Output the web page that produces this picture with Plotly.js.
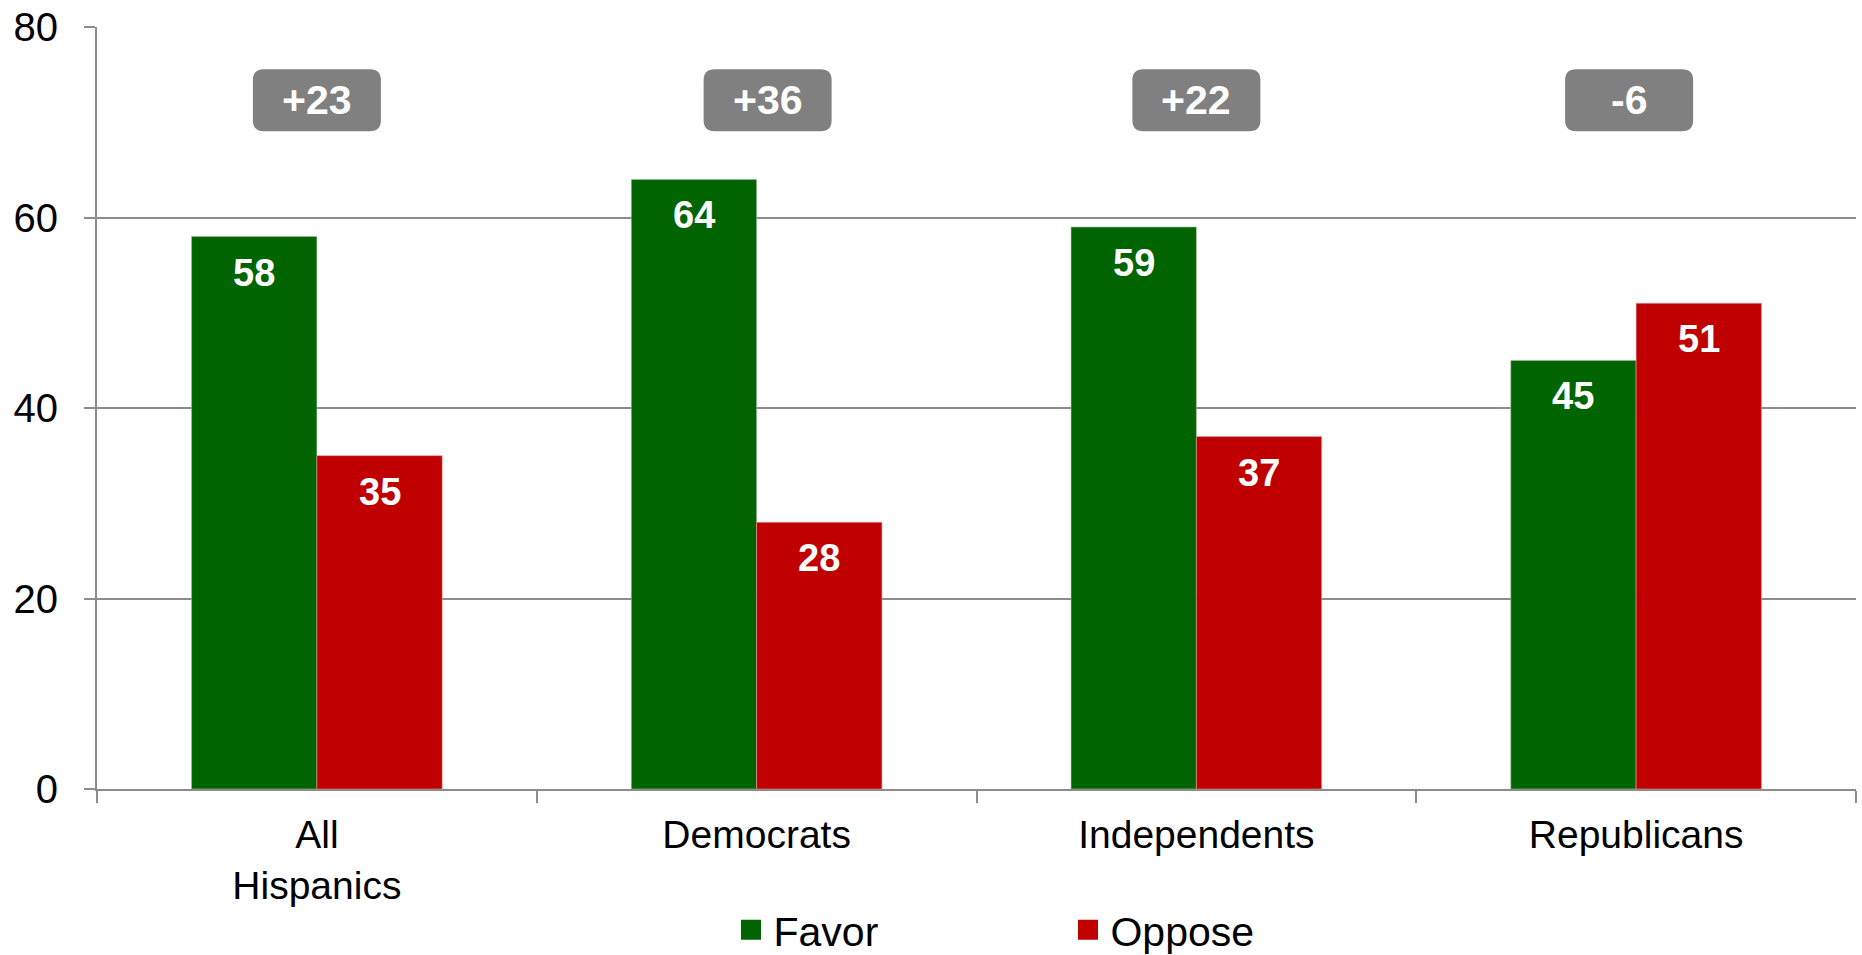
<!DOCTYPE html>
<html>
<head>
<meta charset="utf-8">
<script src="https://cdn.plot.ly/plotly-3.0.1.min.js"></script>
<style>html,body{margin:0;padding:0;background:#fff;}#chart{width:1862px;height:955px;}</style>
</head>
<body>
<div id="chart"></div>
<script>
// ---- data ----
var categories = ["All<br>Hispanics", "Democrats", "Independents", "Republicans"];
var favor = [58, 64, 59, 45];
var oppose = [35, 28, 37, 51];
var diffLabels = ["+23", "+36", "+22", "-6"];
var yTicks = [0, 20, 40, 60, 80];

// ---- style ----
var W = 1862, H = 955;
var M = {l: 97, r: 6, t: 27, b: 166};
var GREEN = "#006400", RED = "#C00000", BOXGRAY = "#808080", GRID = "#8c8c8c";
var FONT = "Liberation Sans, Arial, sans-serif";
var bargap = 0.43;
var plotW = W - M.l - M.r, plotH = H - M.t - M.b;
var yMax = 80;
var catPx = plotW / categories.length;
var barPx = catPx * (1 - bargap) / 2;
var pxPerY = plotH / yMax;
var boxNudgePx = [0, 11, 0, -7];

var traces = [
  {type: "bar", name: "Favor", x: categories, y: favor, marker: {color: GREEN, line: {color: "#9fbf9f", width: 0.6}}, showlegend: false, hoverinfo: "x+y"},
  {type: "bar", name: "Oppose", x: categories, y: oppose, marker: {color: RED, line: {color: "#e0a0a0", width: 0.6}}, showlegend: false, hoverinfo: "x+y"},
  {type: "scatter", mode: "markers", name: "Favor", x: [null], y: [null], marker: {symbol: "square", size: 16, color: GREEN, line: {color: GREEN, width: 4}}, showlegend: true},
  {type: "scatter", mode: "markers", name: "Oppose", x: [null], y: [null], marker: {symbol: "square", size: 16, color: RED, line: {color: RED, width: 4}}, showlegend: true}
];

var annotations = [];
var shapes = [];
var boxY = 72.3, boxHpx = 62, boxWpx = 128, rad = 11;
categories.forEach(function (c, i) {
  // value labels inside bars
  [[favor, -1], [oppose, 1]].forEach(function (s) {
    annotations.push({
      x: c, y: s[0][i], xref: "x", yref: "y",
      text: "<b>" + s[0][i] + "</b>", showarrow: false,
      xanchor: "center", yanchor: "middle",
      xshift: s[1] * barPx / 2, yshift: -36,
      font: {family: FONT, size: 38, color: "#ffffff"}
    });
  });
  // difference box
  var cx = (i + 0.5) / categories.length + boxNudgePx[i] / plotW;
  var hw = boxWpx / 2 / plotW, hh = boxHpx / 2 / pxPerY;
  var rx = rad / plotW, ry = rad / pxPerY;
  var x0 = cx - hw, x1 = cx + hw, y0 = boxY - hh, y1 = boxY + hh;
  var p = "M" + (x0 + rx) + "," + y1 +
    " L" + (x1 - rx) + "," + y1 +
    " Q" + x1 + "," + y1 + " " + x1 + "," + (y1 - ry) +
    " L" + x1 + "," + (y0 + ry) +
    " Q" + x1 + "," + y0 + " " + (x1 - rx) + "," + y0 +
    " L" + (x0 + rx) + "," + y0 +
    " Q" + x0 + "," + y0 + " " + x0 + "," + (y0 + ry) +
    " L" + x0 + "," + (y1 - ry) +
    " Q" + x0 + "," + y1 + " " + (x0 + rx) + "," + y1 + " Z";
  shapes.push({type: "path", xref: "paper", yref: "y", path: p, fillcolor: BOXGRAY, line: {width: 0}, layer: "above"});
  annotations.push({
    x: cx, y: boxY, xref: "paper", yref: "y", text: "<b>" + diffLabels[i] + "</b>",
    xanchor: "center", yanchor: "middle",
    showarrow: false, font: {family: FONT, size: 41, color: "#ffffff"}
  });
});

var layout = {
  width: W, height: H,
  margin: M,
  paper_bgcolor: "#ffffff", plot_bgcolor: "#ffffff",
  font: {family: FONT, size: 39, color: "#000000"},
  barmode: "group", bargap: bargap, bargroupgap: 0,
  showlegend: true,
  legend: {orientation: "h", xref: "paper", x: 0.359, xanchor: "left",
           yref: "container", y: 0.026, yanchor: "middle",
           font: {family: FONT, size: 41, color: "#000"}, itemwidth: 35, entrywidth: 287, itemclick: false, tracegroupgap: 0},
  xaxis: {
    type: "category", showgrid: false, zeroline: false,
    showline: true, linecolor: GRID, linewidth: 2,
    ticks: "outside", tickson: "boundaries", ticklen: 12, tickcolor: GRID, tickwidth: 2,
    tickfont: {family: FONT, size: 39, color: "#000"}, ticklabelstandoff: 10
  },
  yaxis: {
    range: [0, yMax], tickvals: yTicks, ticktext: yTicks.map(String),
    showgrid: true, gridcolor: GRID, gridwidth: 2, zeroline: false,
    showline: true, linecolor: GRID, linewidth: 2,
    ticks: "outside", ticklen: 11, tickcolor: GRID, tickwidth: 2,
    tickfont: {family: FONT, size: 40, color: "#000"}, ticklabelstandoff: 18
  },
  shapes: shapes,
  annotations: annotations
};

Plotly.newPlot("chart", traces, layout, {displayModeBar: false, staticPlot: true});
</script>
</body>
</html>
